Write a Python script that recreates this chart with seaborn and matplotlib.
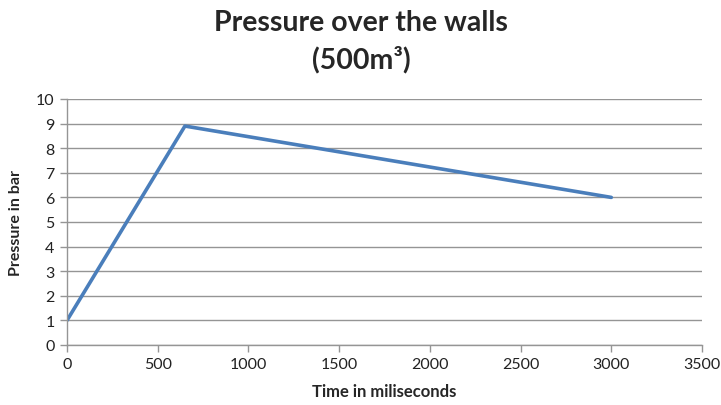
import matplotlib
matplotlib.use("Agg")
import matplotlib.pyplot as plt
import seaborn as sns
import pandas as pd

time_ms = [0, 650, 3000]
pressure_bar = [1.0, 8.9, 6.0]
x_ticks = [0, 500, 1000, 1500, 2000, 2500, 3000, 3500]
y_ticks = list(range(0, 11))

sns.set_theme(style="white")
plt.rcParams["font.family"] = ["Lato", "DejaVu Sans"]

df = pd.DataFrame({"Time": time_ms, "Pressure": pressure_bar})

fig = plt.figure(figsize=(7.21, 4.06), dpi=100)
ax = fig.add_axes([67 / 721, 1 - 346 / 406, (702 - 67) / 721, (346 - 100) / 406])

sns.lineplot(data=df, x="Time", y="Pressure", ax=ax, color="#4A7EBB",
             linewidth=2.6, sort=False)

ax.set_xlim(0, 3500)
ax.set_ylim(0, 10)
ax.set_xticks(x_ticks)
ax.set_yticks(y_ticks)
ax.grid(axis="y", color="#959595", linewidth=1.0)
ax.set_axisbelow(True)

for side in ("top", "right"):
    ax.spines[side].set_visible(False)
for side in ("left", "bottom"):
    ax.spines[side].set_color("#959595")
    ax.spines[side].set_linewidth(1.0)

ax.tick_params(axis="both", which="major", direction="out", length=5,
               width=1.0, color="#959595", labelsize=11.5, labelcolor="#222222",
               bottom=True, left=True)
ax.tick_params(axis="y", pad=4)
ax.tick_params(axis="x", pad=4)

ax.set_xlabel("Time in miliseconds", fontsize=12, fontweight="bold", labelpad=8)
ax.set_ylabel("Pressure in bar", fontsize=11.5, fontweight="bold", labelpad=9)

title_x = 361 / 721
fig.text(title_x, 1 - 23 / 406, "Pressure over the walls",
         ha="center", va="center", fontsize=20.5, fontweight="bold")
fig.text(title_x, 1 - 60 / 406, "(500m³)",
         ha="center", va="center", fontsize=20.5, fontweight="bold")

fig.savefig("out.png", dpi=100, facecolor="white")
